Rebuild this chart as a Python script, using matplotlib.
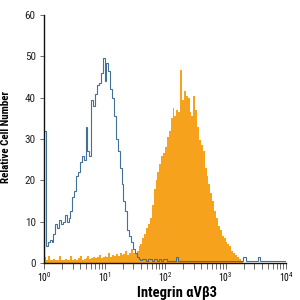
import numpy as np
import matplotlib
matplotlib.use("Agg")
import matplotlib.pyplot as plt
from matplotlib.ticker import LogLocator, NullFormatter, FixedLocator

# 128 log-spaced bins covering 10^0 .. 10^4 (32 bins per decade)
bins_per_decade = 32
n_bins = 128

isotype_counts = [
    32, 4, 5, 5.5, 5, 7, 9.5, 8.5, 10.5, 9.5,
    10, 11.5, 10, 11, 12.5, 16, 17.5, 21, 22, 24.5,
    26, 25, 33, 27, 26, 39.5, 38, 41, 43, 43.5,
    46, 49.5, 44, 48.5, 46.5, 42, 40, 35.5, 30, 27,
    23, 19, 15, 12.5, 8, 6.5, 5, 3.5, 2.5, 1.5,
    1, 0.8, 1, 1, 0.5, 1, 1, 0.5, 1, 1,
    0.5, 1, 0.5, 1, 1, 0.5, 0.5, 0.5, 0.5, 0.5,
    1.5, 0.5, 0.5, 0.5, 0.5, 0.5, 0.5, 0.5, 0.5, 0.5,
    0.5, 0.5, 0.5, 0.5, 0.5, 0.5, 0.5, 0.5, 0.5, 0.5,
    0.5, 0.5, 0.5, 0.5, 0.5, 0.5, 0.5, 0.5, 0.5, 0.5,
    0.5, 0.5, 0.5, 0.5, 0.5, 1.5, 1.5, 0.5, 0.5, 0.5,
    0.5, 0.5, 0.5, 1.5, 0.5, 0.5, 0.5, 0.5, 0.5, 0.5,
    0.5, 0.5, 0.5, 0.5, 0.5, 0.5, 0.5, 0.5,
]

stained_counts = [
    1.5, 0.8, 1.8, 0.8, 0.8, 1, 0.7, 0.8, 1.8, 0.8,
    0.7, 1, 0.8, 0.8, 1.8, 0.8, 1, 0.8, 1.2, 1.8,
    0.8, 1, 1.2, 1.8, 1, 1.2, 1.5, 1.2, 1.5, 2,
    1.3, 1.5, 1.8, 1.5, 2.5, 1.5, 2, 1.8, 2.2, 1.8,
    2.5, 2, 2.2, 3, 2, 2.5, 3.5, 2.5, 2.5, 3,
    4, 4.5, 6, 7, 8.5, 9.5, 11, 14, 18, 20,
    22, 24, 26, 26.5, 28, 30.5, 32, 35, 37.5, 35.5,
    37, 36.5, 46.7, 39.5, 41.5, 40.5, 40, 36.5, 35.5, 40.4,
    37, 33, 29.8, 28.5, 27, 23, 21, 19, 17, 15,
    12.5, 11, 9, 8, 6.5, 6, 5, 4.5, 4, 3,
    2.5, 2, 1.5, 1, 0.5, 0, 0, 0, 0, 0,
    0, 0, 0, 0, 0, 0, 0, 0, 0, 0,
    0, 0, 0, 0, 0, 0, 0, 0,
]

y_ticks = [0, 10, 20, 30, 40, 50, 60]
x_major = [1, 10, 100, 1000, 10000]
x_major_labels = [r"$10^0$", r"$10^1$", r"$10^2$", r"$10^3$", r"$10^4$"]

orange = "#F7A21C"
blue = "#3F7199"

edges = 10 ** (np.arange(n_bins + 1) / bins_per_decade)

plt.rcParams["mathtext.fontset"] = "custom"
plt.rcParams["mathtext.rm"] = "Roboto Condensed"
plt.rcParams["mathtext.it"] = "Roboto Condensed:italic"
plt.rcParams["mathtext.bf"] = "Roboto Condensed:bold"

fig = plt.figure(figsize=(3, 3), dpi=100)
ax = fig.add_axes([44 / 300, 37 / 300, (286 - 44) / 300, (263 - 15) / 300])

ax.stairs(stained_counts, edges, fill=True, color=orange, lw=0)
ax.stairs(isotype_counts, edges, color=blue, lw=0.8)

ax.set_xscale("log")
ax.set_xlim(1, 10000)
ax.set_ylim(0, 60)

fam = ["Roboto Condensed", "Roboto", "DejaVu Sans"]

ax.xaxis.set_major_locator(FixedLocator(x_major))
ax.set_xticklabels(x_major_labels, fontsize=7, family=fam)
ax.xaxis.set_minor_locator(LogLocator(base=10, subs=np.arange(2, 10), numticks=20))
ax.xaxis.set_minor_formatter(NullFormatter())
ax.set_yticks(y_ticks)
ax.set_yticklabels([str(v) for v in y_ticks], fontsize=8, family=fam, color="#222222")

ax.tick_params(axis="x", which="both", direction="out", length=4, width=0.6,
               color="#555555", pad=1.5)
ax.tick_params(axis="y", which="major", direction="out", length=3, width=0.6,
               color="#555555", pad=3)

for s in ["top", "right"]:
    ax.spines[s].set_visible(False)
for s in ["left", "bottom"]:
    ax.spines[s].set_linewidth(1.0)
    ax.spines[s].set_color("#111111")

ax.set_ylabel("Relative Cell Number", fontsize=7.9, fontweight="bold", family=fam)
ax.yaxis.set_label_coords(-0.135, 0.51)
fig.text(177 / 300, 1 - 293 / 300, "Integrin \u03b1V\u03b23", fontsize=10.5,
         fontweight="bold", family=fam, ha="center", va="center")

fig.savefig("out.png", dpi=100)
